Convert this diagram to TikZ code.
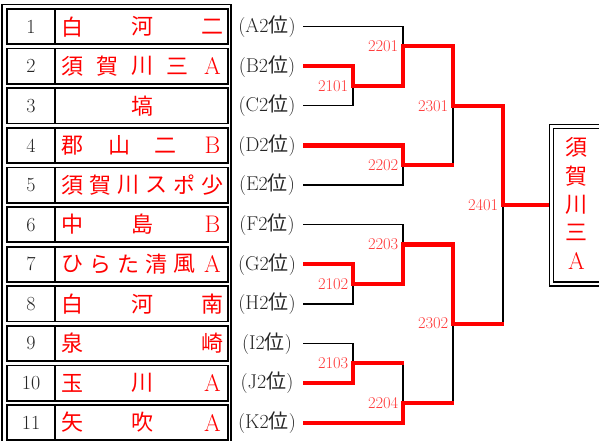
\documentclass[tikz,border=0pt]{standalone}
\usepackage{fontspec}
\newfontfamily\jp{Noto Sans CJK JP}
\definecolor{nred}{RGB}{255,0,0}
\definecolor{lred}{RGB}{255,55,55}
\newcommand\lat[1]{{\normalfont\fontsize{24}{28}\selectfont #1}}
\newcommand\teamrow[4]{%
  \ifnum#3=1
    \node[namechar] (#1-1) at (142.5,#2) {#4};
  \else
    \pgfmathsetmacro\tgap{140/(#3-1)}
    \foreach \ch [count=\k] in {#4} {
      \pgfmathsetmacro\txx{72.5+(\k-1)*\tgap}
      \node[namechar] (#1-\k) at (\txx,#2) {\ch};
    }
  \fi}
\tikzset{
  blk/.style={line width=1.4pt, draw=black},
  rline/.style={line width=4.2pt, draw=nred, line join=miter},
  num/.style={inner sep=0pt, font=\fontsize{20}{24}\selectfont, text=black!85},
  namechar/.style={inner sep=0pt, font=\jp\fontsize{22}{26}\selectfont, text=nred},
  poslbl/.style={inner sep=0pt, font=\fontsize{20}{24}\selectfont, text=black!85},
  matchlbl/.style={inner sep=0pt, anchor=east, font=\fontsize{16.5}{19}\selectfont, text=lred},
  rowbox/.style={line width=1.8pt, draw=black},
  tframe/.style={line width=1.6pt, draw=black},
  wframe/.style={line width=1.8pt, draw=black, line join=miter}
}
\begin{document}
\begin{tikzpicture}[x=1pt,y=-1pt]
\useasboundingbox (0,0) rectangle (599,441);
% table frame
\draw[tframe] (1.8,4.5) rectangle (231.2,470);
\foreach \i/\L in {1/A,2/B,3/C,4/D,5/E,6/F,7/G,8/H,9/I,10/J,11/K} {
  \pgfmathsetmacro\c{26.6+39.6*(\i-1)}
  \draw[rowbox] (6.8,\c-17.6) rectangle (227.6,\c+17.6);
  \draw[rowbox] (55,\c-17.6) -- (55,\c+17.6);
  \node[num] (n\i) at (31,\c) {\i};
  \node[poslbl] (p\i) at (267,\c) {(\L2{\jp 位})};
  \coordinate (s\i) at (303,\c);
}
\teamrow{t1}{26.6}{3}{白,河,二}
\teamrow{t2}{66.2}{5}{須,賀,川,三,\lat{A}}
\teamrow{t3}{105.8}{1}{塙}
\teamrow{t4}{145.4}{4}{郡,山,二,\lat{B}}
\teamrow{t5}{185.0}{6}{須,賀,川,ス,ポ,少}
\teamrow{t6}{224.6}{3}{中,島,\lat{B}}
\teamrow{t7}{264.2}{6}{ひ,ら,た,清,風,\lat{A}}
\teamrow{t8}{303.8}{3}{白,河,南}
\teamrow{t9}{343.4}{2}{泉,崎}
\teamrow{t10}{383.0}{3}{玉,川,\lat{A}}
\teamrow{t11}{422.6}{3}{矢,吹,\lat{A}}
% junctions
\coordinate (j2101) at (353,86);
\coordinate (j2201) at (403,46.4);
\coordinate (j2202) at (403,165.2);
\coordinate (j2301) at (453,105.8);
\coordinate (j2401) at (503,205);
\coordinate (j2203) at (403,244.4);
\coordinate (j2102) at (353,284);
\coordinate (j2103) at (353,363.2);
\coordinate (j2204) at (403,402.8);
\coordinate (j2302) at (453,323.6);
% winner box (its right side lies beyond the picture)
\node[inner sep=0pt, outer sep=0pt, minimum width=0pt, minimum height=162pt, anchor=west] (win) at (548.6,205) {};
\draw[wframe] (615,124.4) -- (549.5,124.4) -- (549.5,285.6) -- (615,285.6);
\draw[wframe] (615,128.4) -- (553.5,128.4) -- (553.5,281.6) -- (615,281.6);
\foreach \ch [count=\k] in {須,賀,川,三,\lat{A}} {
  \pgfmathsetmacro\wy{147.5+(\k-1)*28.4}
  \node[namechar] (w\k) at (576.5,\wy) {\ch};
}
% black bracket
\draw[blk] (s1) -| (j2201);
\draw[blk] (s2) -| (j2101);
\draw[blk] (s3) -| (j2101);
\draw[blk] (j2101) -| (j2201);
\draw[blk] (j2201) -| (j2301);
\draw[blk] (s4) -| (j2202);
\draw[blk] (s5) -| (j2202);
\draw[blk] (j2202) -| (j2301);
\draw[blk] (j2301) -| (j2401);
\draw[blk] (j2401) -- (win.west);
\draw[blk] (s6) -| (j2203);
\draw[blk] (s7) -| (j2102);
\draw[blk] (s8) -| (j2102);
\draw[blk] (j2102) -| (j2203);
\draw[blk] (j2203) -| (j2302);
\draw[blk] (s9) -| (j2103);
\draw[blk] (s10) -| (j2103);
\draw[blk] (j2103) -| (j2204);
\draw[blk] (s11) -| (j2204);
\draw[blk] (j2204) -| (j2302);
\draw[blk] (j2302) -| (j2401);
% red winners
\draw[rline] (s2) -| (j2101) -| (j2201) -| (j2301) -| (j2401) -- (win.west);
\draw[rline] (s4) -| (j2202) -- ([xshift=0.7pt]j2202 -| j2301);
\draw[rline] (s7) -| (j2102) -| (j2203) -| (j2302) -- ([xshift=0.7pt]j2302 -| j2401);
\draw[rline] (s10) -| (j2103) -- ([xshift=0.7pt]j2103 -| j2204);
\draw[rline] (s11) -| (j2204) -- ([xshift=0.7pt]j2204 -| j2302);
% match labels
\foreach \m in {2101,2201,2202,2301,2401,2203,2102,2103,2204,2302} {
  \node[matchlbl] (l\m) at ([xshift=-4.5pt]j\m) {\m};
}
\end{tikzpicture}
\end{document}
